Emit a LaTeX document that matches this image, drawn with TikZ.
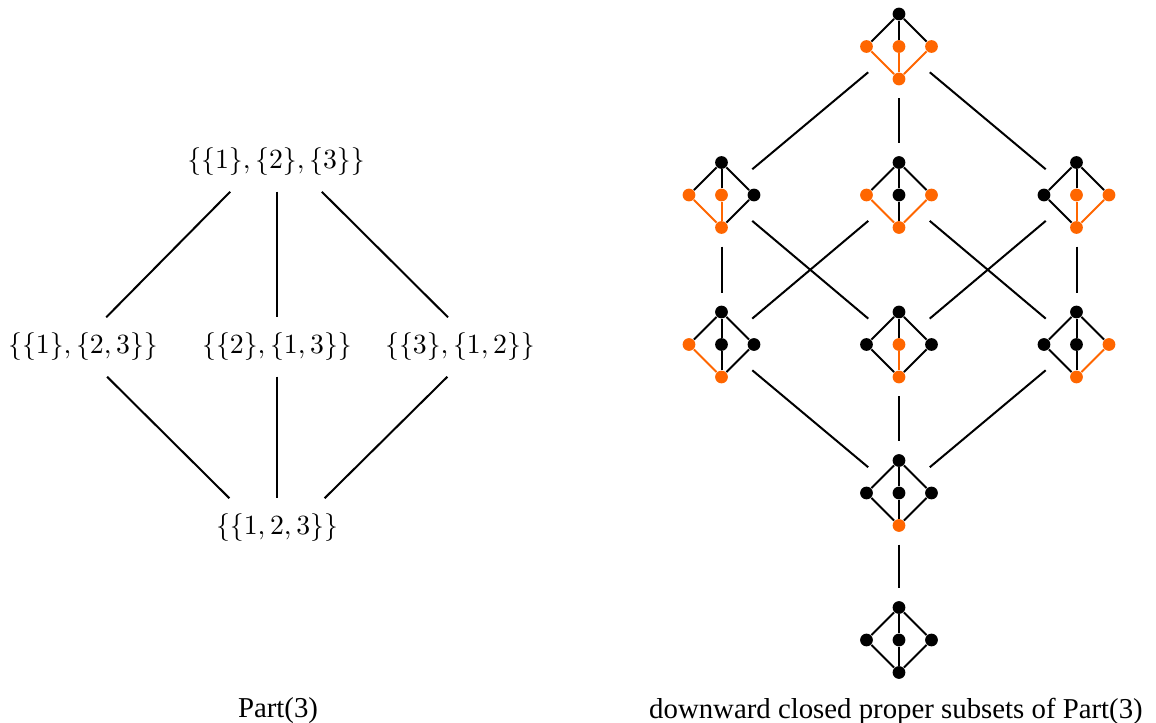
\documentclass[tikz,border=0pt]{standalone}
\usepackage{fontspec}
\setmainfont{Liberation Serif}
\usetikzlibrary{shapes.geometric}
\definecolor{orng}{RGB}{255,102,0}
\tikzset{
  lbl/.style={inner sep=5.5pt},
  captiontext/.style={font=\fontsize{10.37}{12}\selectfont},
  conn/.style={line width=0.72pt},
  dot/.style={circle, fill=#1, inner sep=0pt, minimum size=4.6pt},
  hull/.style={ellipse, inner sep=0pt, minimum width=25.2pt, minimum height=36.7pt},
  pics/diam/.style n args={4}{code={
    \node[hull] (-c) at (0,0) {};
    \node[dot=black] (-t) at (0,-32.5) {};
    \node[dot=#1] (-l) at (-32.5,0) {};
    \node[dot=#2] (-m) at (0,0) {};
    \node[dot=#3] (-r) at (32.5,0) {};
    \node[dot=#4] (-b) at (0,32.5) {};
    \draw[conn] (-t) -- (-l);
    \draw[conn] (-t) -- (-m);
    \draw[conn] (-t) -- (-r);
    \draw[conn,#1] (-l) -- (-b);
    \draw[conn,#2] (-m) -- (-b);
    \draw[conn,#3] (-r) -- (-b);
  }}
}
\begin{document}
\begin{tikzpicture}[x=0.36pt,y=-0.36pt]
\useasboundingbox (0,0) rectangle (1156,723);
% left: the lattice Part(3)
\node[lbl] (p0) at (276,162) {$\{\{1\},\{2\},\{3\}\}$};
\node[lbl] (p1) at (83,347) {$\{\{1\},\{2,3\}\}$};
\node[lbl] (p2) at (277,347) {$\{\{2\},\{1,3\}\}$};
\node[lbl] (p3) at (460,347) {$\{\{3\},\{1,2\}\}$};
\node[lbl] (p4) at (277,528) {$\{\{1,2,3\}\}$};
\draw[conn] (p0.213) -- (p1.52);
\draw[conn] (p0.south -| p2) -- (p2.north);
\draw[conn] (p0.327) -- (p3.112);
\draw[conn] (p1.-51) -- (p4.148);
\draw[conn] (p2.south) -- (p4.north);
\draw[conn] (p3.247) -- (p4.32);
% right: downward closed subsets
\pic (a)  at (899,46.5)  {diam={orng}{orng}{orng}{orng}};
\pic (b1) at (721.5,195) {diam={orng}{orng}{black}{orng}};
\pic (b2) at (899,195)   {diam={orng}{black}{orng}{orng}};
\pic (b3) at (1076.5,195){diam={black}{orng}{orng}{orng}};
\pic (c1) at (721.5,344.5) {diam={orng}{black}{black}{orng}};
\pic (c2) at (899,344.5)   {diam={black}{orng}{black}{orng}};
\pic (c3) at (1076.5,344.5){diam={black}{black}{orng}{orng}};
\pic (d)  at (899,493)   {diam={black}{black}{black}{orng}};
\pic (e)  at (899,640)   {diam={black}{black}{black}{black}};
\draw[conn] (a-c) -- (b1-c);
\draw[conn] (a-c) -- (b2-c);
\draw[conn] (a-c) -- (b3-c);
\draw[conn] (b1-c) -- (c1-c);
\draw[conn] (b1-c) -- (c2-c);
\draw[conn] (b2-c) -- (c1-c);
\draw[conn] (b2-c) -- (c3-c);
\draw[conn] (b3-c) -- (c2-c);
\draw[conn] (b3-c) -- (c3-c);
\draw[conn] (c1-c) -- (d-c);
\draw[conn] (c2-c) -- (d-c);
\draw[conn] (c3-c) -- (d-c);
\draw[conn] (d-c) -- (e-c);
% captions
\node[captiontext] (cap1) at (278,711) {Part(3)};
\node[captiontext] (cap2) at (896,711) {downward closed proper subsets of Part(3)};
\end{tikzpicture}
\end{document}
